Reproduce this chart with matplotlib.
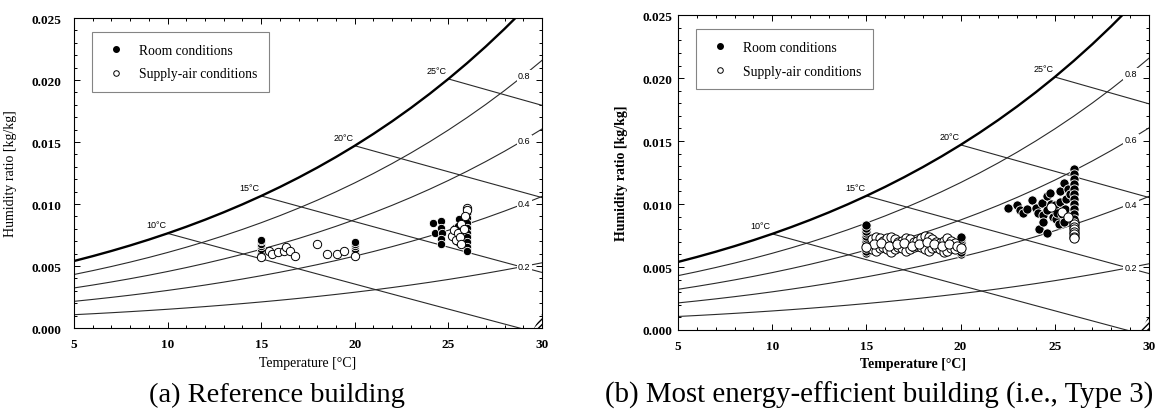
import matplotlib.pyplot as plt
from matplotlib.lines import Line2D
from matplotlib.patches import Polygon
import numpy as np

# psychrometric background (101.325 kPa)
P_ATM = 101.325
TEMPS = np.arange(5, 31)
P_SAT = [0.8726, 0.9354, 1.0021, 1.0730, 1.1482, 1.2282, 1.3130, 1.4028, 1.4981,
         1.5990, 1.7058, 1.8188, 1.9384, 2.0647, 2.1983, 2.3393, 2.4882, 2.6453,
         2.8111, 2.9858, 3.1699, 3.3639, 3.5681, 3.7831, 4.0092, 4.2470]
RH_LEVELS = [0.2, 0.4, 0.6, 0.8]
WET_BULB = [10, 15, 20, 25]

# (a) Reference building
a_room_t = [15]*7 + [20]*6 + [24.2, 24.3, 24.6, 24.6, 24.65, 24.6, 24.6, 25.35, 25.3, 25.4,
                              25.55, 25.5, 25.5] + [26.0]*9
a_room_w = [0.0060, 0.0062, 0.0064, 0.0066, 0.0068, 0.0070, 0.0071,
            0.0060, 0.0062, 0.0064, 0.0066, 0.0068, 0.0069,
            0.0085, 0.0077, 0.0086, 0.0081, 0.0077, 0.0072, 0.0068, 0.0081, 0.0076, 0.0070,
            0.0088, 0.0082, 0.0069,
            0.0092, 0.0089, 0.0085, 0.0081, 0.0077, 0.0073, 0.0069, 0.0065, 0.0062]
a_supply_t = [15.0, 15.4, 15.6, 15.9, 16.2, 16.35, 16.55, 16.8, 18.0, 18.5, 19.05, 19.45, 20.0,
              25.2, 25.3, 25.4, 25.5, 25.6, 25.7, 25.7, 25.85, 26.0, 26.0, 25.9]
a_supply_w = [0.0057, 0.0062, 0.0060, 0.0061, 0.0062, 0.0065, 0.0062, 0.0058, 0.0068, 0.0060,
              0.0060, 0.0062, 0.0058,
              0.0074, 0.0079, 0.0071, 0.0077, 0.0073, 0.0084, 0.0068, 0.0080, 0.0097, 0.0095, 0.0090]

# (b) Most energy-efficient building (Type 3)
b_room_t = [15]*12 + [20]*8 + [
    22.5, 23.0, 23.15, 23.3, 23.5, 23.8, 24.0, 24.1, 24.15, 24.3, 24.4, 24.4, 24.6, 24.6, 24.6,
    24.75, 24.8, 24.9, 25.0, 25.05, 25.1, 25.2, 25.3, 25.3, 25.4, 25.5, 25.5, 25.55, 25.6, 25.7,
    25.8, 25.8] + [26.0]*11
b_room_w = [0.0061, 0.0063, 0.0065, 0.0067, 0.0069, 0.0071, 0.0073, 0.0075, 0.0077, 0.0079,
            0.0081, 0.0083,
            0.0060, 0.0062, 0.0064, 0.0066, 0.0068, 0.0070, 0.0072, 0.0074,
            0.0097, 0.0099, 0.0095, 0.0093, 0.0096, 0.0103, 0.0097, 0.0093, 0.0080, 0.0101, 0.0091,
            0.0086, 0.0077, 0.0106, 0.0095, 0.0109, 0.0100, 0.0090, 0.0099, 0.0088, 0.0093, 0.0084,
            0.0110, 0.0102, 0.0092, 0.0117, 0.0086, 0.0096, 0.0104, 0.0112, 0.0108, 0.0090,
            0.0128, 0.0124, 0.0120, 0.0116, 0.0112, 0.0108, 0.0104, 0.0100, 0.0096, 0.0092, 0.0088]
b_supply_t = [15.3, 15.5, 15.7, 15.9, 16.1, 16.3, 16.5, 16.7, 16.9, 17.1, 17.3, 17.5, 17.7,
              17.9, 18.1, 18.3, 18.5, 18.7, 18.9, 19.1, 19.3, 19.5, 19.7] * 2 + [
    15.4, 15.8, 16.2, 16.6, 17.0, 17.4, 17.8, 18.2, 18.6, 19.0, 19.4, 19.8,
    15.0, 20.0, 26.0, 26.0, 26.0, 26.0, 26.0, 26.0, 26.0, 26.0, 25.4, 25.7, 24.8]
b_supply_w = [0.0072, 0.0074, 0.0073, 0.0071, 0.0073, 0.0074, 0.0072, 0.0070, 0.0071, 0.0073,
              0.0072, 0.0070, 0.0071, 0.0073, 0.0075, 0.0074, 0.0072, 0.0070, 0.0069, 0.0071,
              0.0073, 0.0071, 0.0069,
              0.0064, 0.0063, 0.0065, 0.0066, 0.0064, 0.0062, 0.0064, 0.0066, 0.0065, 0.0063,
              0.0064, 0.0066, 0.0067, 0.0066, 0.0064, 0.0063, 0.0065, 0.0066, 0.0064, 0.0062,
              0.0063, 0.0065, 0.0064,
              0.0068, 0.0069, 0.0067, 0.0068, 0.0069, 0.0067, 0.0068, 0.0070, 0.0068, 0.0067,
              0.0068, 0.0067,
              0.0066, 0.0065, 0.0086, 0.0084, 0.0082, 0.0080, 0.0078, 0.0076, 0.0074, 0.0073,
              0.0094, 0.0090, 0.0098]

SERIF = 'Liberation Serif'
SANS = 'Liberation Sans'


def humidity_ratio(p_v):
    p_v = np.asarray(p_v)
    return 0.622 * p_v / (P_ATM - p_v)


def draw_chart(ax, room_t, room_w, supply_t, supply_w, msize, bold_labels, ypad):
    p_sat = np.array(P_SAT)
    w_sat = humidity_ratio(p_sat)
    ax.plot(TEMPS, w_sat, color='black', lw=1.7, zorder=3)
    for rh in RH_LEVELS:
        w = humidity_ratio(rh * p_sat)
        ax.plot(TEMPS, w, color='#2a2a2a', lw=0.8, zorder=2)
        i = list(TEMPS).index(29)
        ax.text(29.05, w[i], f'{rh:.1f}', fontsize=6.5, family=SANS, ha='center', va='center',
                zorder=4, bbox=dict(boxstyle='square,pad=0.15', fc='white', ec='none'))
    for twb in WET_BULB:
        ws = w_sat[list(TEMPS).index(twb)]
        t = TEMPS[TEMPS >= twb]
        w = ((2501 - 2.326 * twb) * ws - 1.006 * (t - twb)) / (2501 + 1.86 * t - 4.186 * twb)
        ax.plot(t, w, color='#2a2a2a', lw=0.8, zorder=2)
        ax.annotate(f'{twb}°C', (twb, ws), xytext=(-1, 3), textcoords='offset points',
                    ha='right', va='bottom', fontsize=6.5, family=SANS)

    ax.scatter(room_t, room_w, s=msize, c='black', edgecolors='white', linewidths=0.6, zorder=5)
    ax.scatter(supply_t, supply_w, s=msize, c='white', edgecolors='black', linewidths=0.7, zorder=6)

    # small hatched corner mark
    ax.add_patch(Polygon([[0.982, 0.0], [1.0, 0.0], [1.0, 0.045]], closed=True,
                         transform=ax.transAxes, fc='none', ec='black', hatch='//////', lw=0))

    ax.set_xlim(5, 30)
    ax.set_ylim(0, 0.025)
    ax.set_xticks([5, 10, 15, 20, 25, 30])
    ax.set_xticks(np.arange(5, 31, 1), minor=True)
    ax.set_yticks([0.0, 0.005, 0.010, 0.015, 0.020, 0.025])
    ax.set_yticks(np.arange(0, 0.0251, 0.001), minor=True)
    ax.set_yticklabels([f'{v:.3f}' for v in [0.0, 0.005, 0.010, 0.015, 0.020, 0.025]])
    ax.tick_params(which='both', direction='in', top=True, right=True, width=0.7)
    ax.tick_params(which='major', length=4, labelsize=9.5)
    ax.tick_params(which='minor', length=2)
    ax.tick_params(axis='x', which='major', pad=7)
    ax.tick_params(axis='y', which='major', pad=ypad)
    for lab in ax.get_xticklabels() + ax.get_yticklabels():
        lab.set_family(SERIF)
        lab.set_fontweight('bold')
    for sp in ax.spines.values():
        sp.set_linewidth(0.8)
    weight = 'bold' if bold_labels else 'normal'
    ax.set_xlabel('Temperature [°C]', family=SERIF, fontsize=10, fontweight=weight)
    ax.set_ylabel('Humidity ratio [kg/kg]', family=SERIF, fontsize=10, fontweight=weight)

    handles = [Line2D([], [], marker='o', ls='none', mfc='black', mec='black', ms=4),
               Line2D([], [], marker='o', ls='none', mfc='white', mec='black', ms=4, mew=0.7)]
    leg = ax.legend(handles, ['Room conditions', 'Supply-air conditions'], loc='upper left',
                    bbox_to_anchor=(0.038, 0.955), fancybox=False, edgecolor='#666666',
                    prop={'family': SERIF, 'size': 9.8}, borderpad=0.85, labelspacing=0.8,
                    handletextpad=0.8, handlelength=1.8, borderaxespad=0)
    leg.get_frame().set_linewidth(0.8)


fig = plt.figure(figsize=(11.6, 4.14), dpi=100)
ax_a = fig.add_axes([0.0638, 0.2053, 0.4034, 0.7488])
ax_b = fig.add_axes([0.5845, 0.2005, 0.406, 0.7605])

draw_chart(ax_a, a_room_t, a_room_w, a_supply_t, a_supply_w, 36, False, 9)
draw_chart(ax_b, b_room_t, b_room_w, b_supply_t, b_supply_w, 44, True, 4)

ax_a.xaxis.set_label_coords(0.5, -0.09)
ax_a.yaxis.set_label_coords(-0.122, 0.5)
ax_b.xaxis.set_label_coords(0.5, -0.085)
ax_b.yaxis.set_label_coords(-0.106, 0.5)

fig.text(277 / 1160, 1 - 395 / 414, '(a) Reference building', family=SERIF, fontsize=20.5,
         ha='center', va='center')
fig.text(605 / 1160, 1 - 395 / 414, '(b) Most energy-efficient building (i.e., Type 3)',
         family=SERIF, fontsize=20.8, ha='left', va='center')

fig.savefig('out.png', dpi=100)
